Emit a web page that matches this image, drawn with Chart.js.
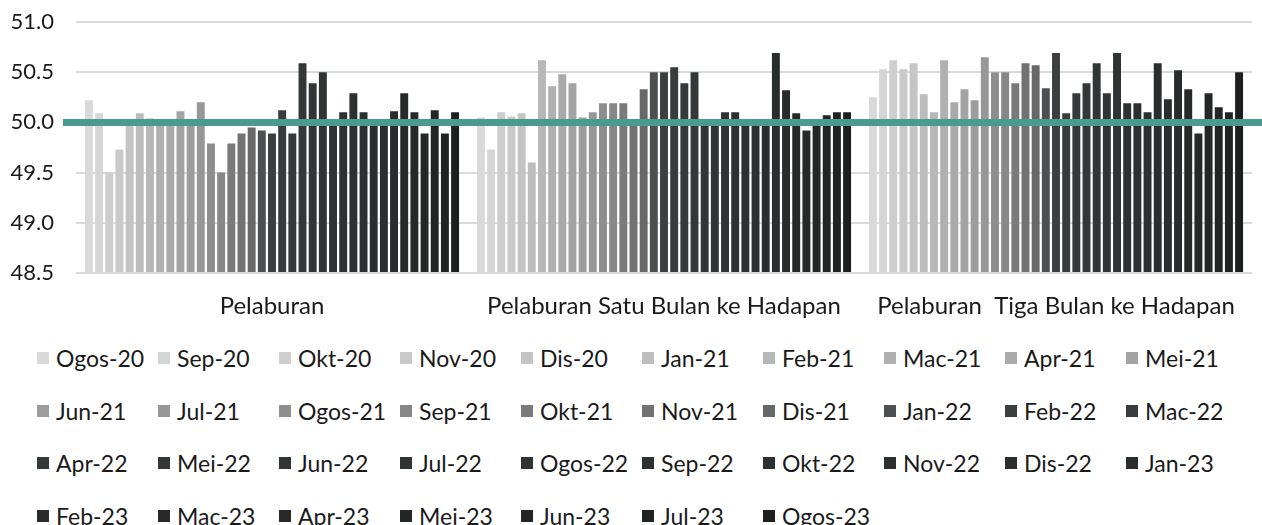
<!DOCTYPE html>
<html>
<head>
<meta charset="utf-8">
<script src="https://cdn.jsdelivr.net/npm/chart.js@4.4.1/dist/chart.umd.min.js"></script>
<style>
  html, body { margin: 0; padding: 0; background: #fff; }
  body { width: 1262px; height: 525px; position: relative; overflow: hidden; font-family: 'Lato', sans-serif; color: #1a1a1a; }
  #wrap { position: absolute; left: 0; top: 0; width: 1262px; height: 330px; }
  #legend {
    position: absolute; left: 37px; top: 332px;
    display: grid; grid-template-columns: repeat(10, 121px); grid-auto-rows: 52.5px;
  }
  .item { display: flex; align-items: center; font-size: 23px; white-space: nowrap; }
  .box { width: 12px; height: 12px; margin-right: 7px; flex: none; }
</style>
</head>
<body>
<div id="wrap"><canvas id="chart"></canvas></div>
<div id="legend"></div>
<script>
const categories = ['Pelaburan', 'Pelaburan Satu Bulan ke Hadapan', 'Pelaburan  Tiga Bulan ke Hadapan'];

const months = [
  'Ogos-20', 'Sep-20', 'Okt-20', 'Nov-20', 'Dis-20',
  'Jan-21', 'Feb-21', 'Mac-21', 'Apr-21', 'Mei-21', 'Jun-21', 'Jul-21', 'Ogos-21', 'Sep-21', 'Okt-21', 'Nov-21', 'Dis-21',
  'Jan-22', 'Feb-22', 'Mac-22', 'Apr-22', 'Mei-22', 'Jun-22', 'Jul-22', 'Ogos-22', 'Sep-22', 'Okt-22', 'Nov-22', 'Dis-22',
  'Jan-23', 'Feb-23', 'Mac-23', 'Apr-23', 'Mei-23', 'Jun-23', 'Jul-23', 'Ogos-23',
];

// one value per month, in the order of months
const pelaburan = [
  50.22, 50.09, 49.5, 49.73, 50.0, 50.09, 50.04, 50.0, 50.0, 50.11,
  50.0, 50.2, 49.79, 49.5, 49.79, 49.89, 49.95, 49.92, 49.89, 50.12,
  49.89, 50.59, 50.39, 50.5, 50.0, 50.1, 50.29, 50.1, 50.0, 50.0,
  50.11, 50.29, 50.1, 49.89, 50.12, 49.89, 50.1,
];
const satuBulan = [
  50.05, 49.73, 50.1, 50.06, 50.09, 49.6, 50.62, 50.36, 50.48, 50.39,
  50.05, 50.1, 50.19, 50.19, 50.19, 50.0, 50.33, 50.5, 50.5, 50.55,
  50.39, 50.5, 50.0, 50.0, 50.1, 50.1, 50.0, 50.0, 50.0, 50.69,
  50.32, 50.09, 49.92, 50.0, 50.07, 50.1, 50.1,
];
const tigaBulan = [
  50.25, 50.53, 50.62, 50.53, 50.59, 50.28, 50.1, 50.62, 50.2, 50.33,
  50.22, 50.65, 50.5, 50.5, 50.39, 50.59, 50.57, 50.34, 50.69, 50.09,
  50.29, 50.39, 50.59, 50.29, 50.69, 50.19, 50.19, 50.1, 50.59, 50.23,
  50.52, 50.33, 49.89, 50.29, 50.15, 50.1, 50.5,
];

const yTicks = [48.5, 49.0, 49.5, 50.0, 50.5, 51.0];
const threshold = 50.0;

const monthColors = [
  '#d9d9d9', '#d4d5d5', '#cecece', '#c9c9c9', '#c4c4c4',
  '#bdbdbd', '#b7b7b7', '#b0b0b0', '#aaaaaa', '#a3a3a3', '#9d9d9d', '#979797', '#8e8e8e', '#878787', '#7b7b7b', '#727272', '#686868',
  '#4d5050', '#3b3f3f', '#383c3c', '#353939', '#333737', '#313535', '#303434', '#2f3333', '#2e3131', '#2d3030', '#2c2f2f', '#2b2e2e',
  '#2a2d2d', '#292c2c', '#282a2a', '#272929', '#252727', '#232525', '#212323', '#1e2020',
];

Chart.defaults.font.family = 'Lato';
Chart.defaults.color = '#1a1a1a';

const datasets = months.map((m, i) => ({
  label: m,
  data: [pelaburan[i], satuBulan[i], tigaBulan[i]],
  backgroundColor: monthColors[i],
  borderWidth: 0,
  base: yTicks[0],
  barPercentage: 0.78,
  categoryPercentage: 0.96,
}));

const thresholdLine = {
  id: 'thresholdLine',
  afterDatasetsDraw(chart) {
    const { ctx, scales, chartArea } = chart;
    const y = scales.y.getPixelForValue(threshold);
    ctx.save();
    ctx.strokeStyle = '#4a9a8d';
    ctx.lineWidth = 7;
    ctx.beginPath();
    ctx.moveTo(chartArea.left - 13, y);
    ctx.lineTo(chart.width, y);
    ctx.stroke();
    ctx.restore();
  },
};

new Chart(document.getElementById('chart'), {
  type: 'bar',
  data: { labels: categories, datasets },
  options: {
    responsive: true,
    maintainAspectRatio: false,
    animation: false,
    layout: { padding: { top: 22, right: 10, bottom: 0, left: 0 } },
    plugins: { legend: { display: false }, tooltip: { enabled: false } },
    scales: {
      x: {
        grid: { display: false, drawTicks: false },
        border: { display: false },
        ticks: { font: { size: 24 }, padding: 19, maxRotation: 0, autoSkip: false },
        afterFit: (scale) => { scale.height = 57; },
      },
      y: {
        min: yTicks[0],
        max: yTicks[yTicks.length - 1],
        afterBuildTicks: (scale) => { scale.ticks = yTicks.map((v) => ({ value: v })); },
        afterFit: (scale) => { scale.width = 76; scale.paddingTop = 0; scale.paddingBottom = 0; },
        ticks: { font: { size: 22 }, padding: 22, callback: (v) => Number(v).toFixed(1) },
        grid: { color: '#dadada', lineWidth: 2, drawTicks: false },
        border: { display: false },
      },
    },
  },
  plugins: [thresholdLine],
});

document.getElementById('legend').innerHTML = months
  .map((m, i) => `<div class="item"><span class="box" style="background:${monthColors[i]}"></span>${m}</div>`)
  .join('');
</script>
</body>
</html>
